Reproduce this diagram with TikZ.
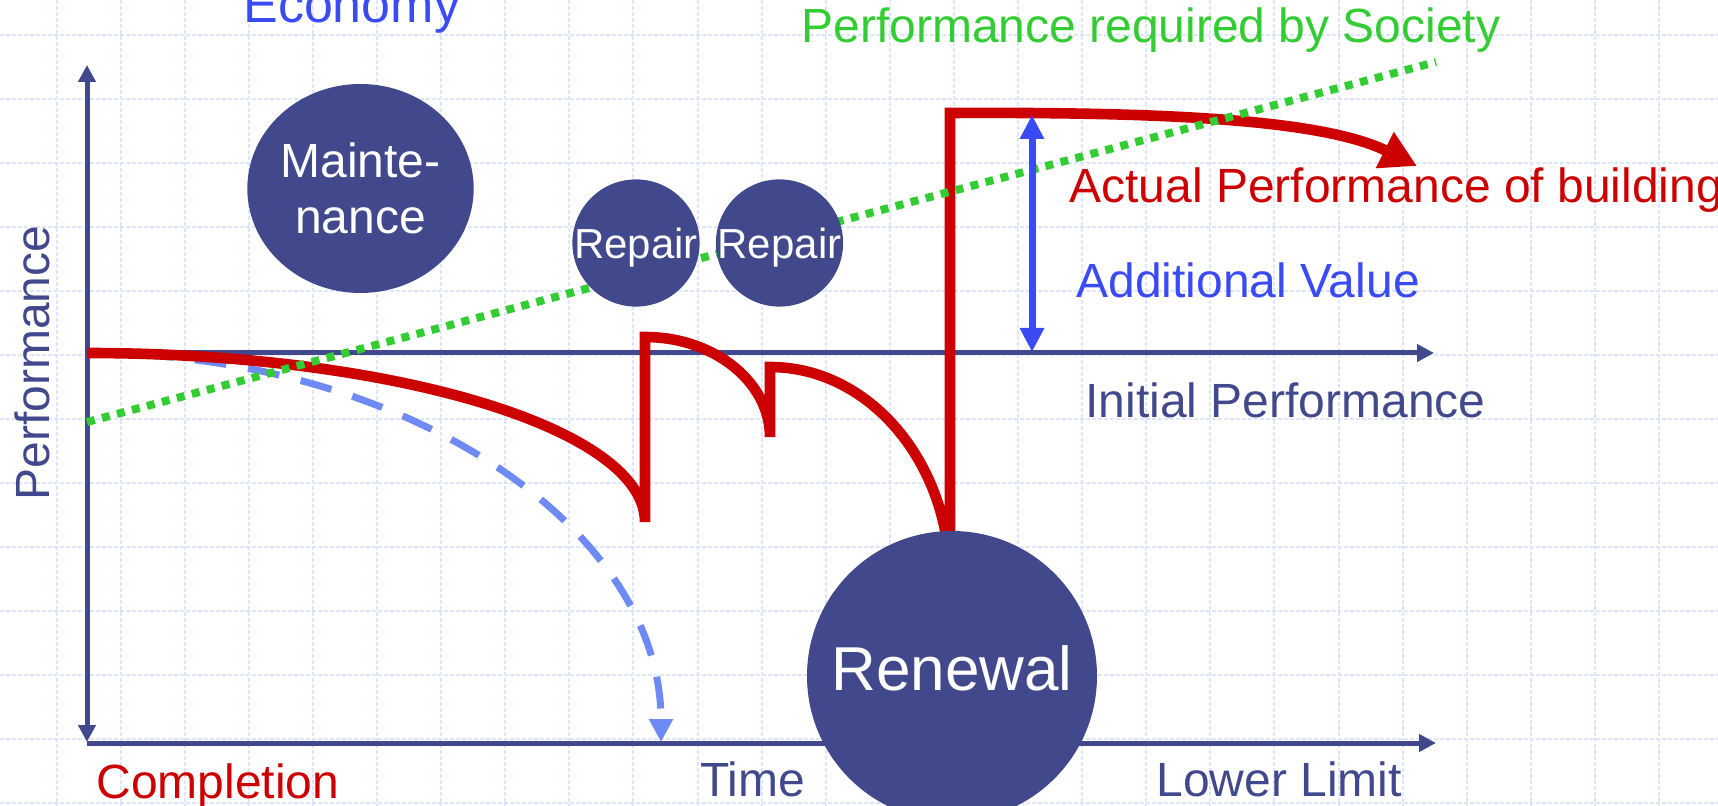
\documentclass[tikz,border=0pt]{standalone}
\usepackage{fontspec}
\setmainfont{Liberation Sans}
\usetikzlibrary{arrows.meta,shapes.geometric}
\definecolor{navy}{RGB}{65,72,140}
\definecolor{perfred}{RGB}{204,0,0}
\definecolor{socgreen}{RGB}{51,204,51}
\definecolor{valblue}{RGB}{58,75,245}
\definecolor{lightblue}{RGB}{110,138,245}
\definecolor{gridblue}{RGB}{222,230,252}

\begin{document}
\begin{tikzpicture}[x=0.5pt,y=-0.5pt,
  axis/.style={navy,line width=2.5pt},
  tipnavy/.tip={Triangle[length=8.5pt,width=8.5pt]},
  blob/.style={fill=navy,text=white,inner sep=0pt},
  lbl/.style={anchor=base west,inner sep=0pt,font=\fontsize{24}{28}\selectfont}]
	\useasboundingbox (0,0) rectangle (1718,806);
	\clip (0,0) rectangle (1718,806);
	%grid
	\foreach \i in {0,...,26}
	  \draw[gridblue,line width=1pt,dash pattern=on 2pt off 1pt] (56.5+64.1*\i,0) -- (56.5+64.1*\i,806);
	\foreach \i in {0,...,12}
	  \draw[gridblue,line width=1pt,dash pattern=on 2pt off 1pt] (0,35+64*\i) -- (1718,35+64*\i);

	%axis
	\coordinate (origin) at (87,743);
	\coordinate (ybot) at (87,742);
	\coordinate (ytop) at (87,65);
	\coordinate (xend) at (1436,743);
	\coordinate (init) at (87,353);
	\coordinate (initend) at (1434,353);
	\draw[axis,tipnavy-tipnavy] (ybot) -- (ytop); %performance axis
	\draw[axis,-tipnavy] (origin) -- (xend); %time axis
	\draw[axis,-tipnavy] (init) -- (initend); %initial performance

	%no upkeep
	\draw[lightblue,line width=3.5pt,dash pattern=on 16pt off 11pt,-{Triangle[length=11.5pt,width=11.5pt]}]
	  (init) .. controls (404,353) and (661,527) .. (661,742);

	%actual performance
	\draw[perfred,line width=5.3pt,-{Triangle[length=18pt,width=19pt]}]
	  (init) .. controls (395,353) and (645,429) .. (645,522) -- (645,337) %repair 1
	  .. controls (714,337) and (770,382) .. (770,437) -- (770,367) %repair 2
	  .. controls (869,367) and (950,462) .. (950,580) -- (950,113) %renewal
	  .. controls (1150,112) and (1320,118) .. (1417,166);

	%society
	\draw[socgreen,line width=4pt,dash pattern=on 4pt off 3.75pt] (87,422) -- (1436,62);

	%measures
	\node[blob,ellipse,minimum width=112.5pt,minimum height=104.5pt,align=center,
	  font=\fontsize{24}{28}\selectfont] (maint) at (360.5,188.5) {Mainte-\\nance};
	\node[blob,circle,minimum size=63pt,text depth=0pt,font=\fontsize{21}{25}\selectfont] (repA) at (636,243) {Repair};
	\node[blob,circle,minimum size=63pt,text depth=0pt,font=\fontsize{21}{25}\selectfont] (repB) at (779.5,243) {Repair};
	\node[blob,circle,minimum size=145pt,text height=14pt,text depth=0pt,
	  font=\fontsize{31}{37}\selectfont] (renew) at (952,676) {Renewal};

	%additional value
	\coordinate (newtop) at (1032,115);
	\coordinate (oldtop) at (1032,352);
	\draw[valblue,line width=3.5pt,{Triangle[length=12pt,width=11.5pt]}-{Triangle[length=12pt,width=11.5pt]}] (newtop) -- (oldtop);

	%labels
	\node[lbl,valblue,font=\fontsize{26}{30}\selectfont] (econ) at (243,23) {Economy};
	\node[lbl,socgreen] (req) at (801,43) {Performance required by Society};
	\node[lbl,perfred] (act) at (1069,203) {Actual Performance of building};
	\node[lbl,valblue] (addv) at (1076,298) {Additional Value};
	\node[lbl,navy] (initp) at (1085,418) {Initial Performance};
	\node[navy,rotate=90,anchor=base,inner sep=0pt,font=\fontsize{24}{28}\selectfont] (perf) at (49,363) {Performance};
	\node[lbl,perfred] (compl) at (96,798) {Completion};
	\node[lbl,navy] (time) at (700,796) {Time};
	\node[lbl,navy] (lowl) at (1156,796) {Lower Limit};
\end{tikzpicture}
\end{document}
